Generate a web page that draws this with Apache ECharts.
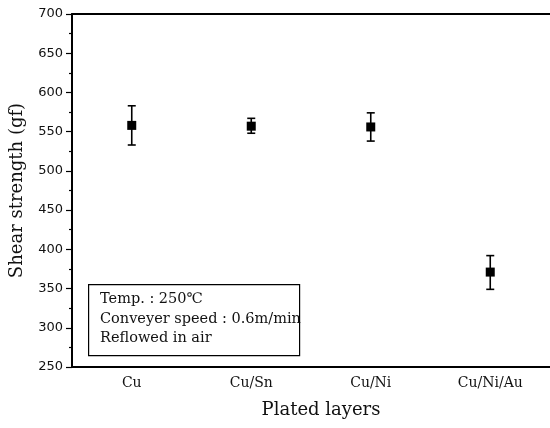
<!DOCTYPE html>
<html>
<head>
<meta charset="utf-8">
<script src="https://cdn.jsdelivr.net/npm/echarts@6/dist/echarts.min.js"></script>
<style>html,body{margin:0;padding:0;background:#fff}#c{width:550px;height:428px}</style>
</head>
<body>
<div id="c"></div>
<script>
const categories = ['Cu', 'Cu/Sn', 'Cu/Ni', 'Cu/Ni/Au'];
const means = [558, 557, 556, 371];
const lower = [533, 548, 538, 349];
const upper = [583, 567, 574, 392];
const yMin = 250, yMax = 700, yStep = 50;
const noteLines = ['Temp. : 250\u2103', 'Conveyer speed : 0.6m/min', 'Reflowed in air'];

const chart = echarts.init(document.getElementById('c'));
const serif = '"DejaVu Serif", "Liberation Serif", serif';
const sans = '"DejaVu Sans", "Liberation Sans", sans-serif';
const data = categories.map((c, i) => [i, means[i], lower[i], upper[i]]);

chart.setOption({
  animation: false,
  backgroundColor: '#fff',
  grid: { left: 72, top: 14, width: 480, height: 353 },
  xAxis: [
    {
      type: 'category', data: categories, position: 'bottom',
      axisLine: { lineStyle: { color: '#000', width: 2 } },
      axisTick: { alignWithLabel: true, length: 5, lineStyle: { color: '#000', width: 1.5 } },
      axisLabel: { color: '#111', fontFamily: serif, fontSize: 14, margin: 9 },
      name: 'Plated layers', nameLocation: 'middle', nameGap: 34,
      nameTextStyle: { color: '#111', fontFamily: serif, fontSize: 18, padding: [0, 0, 0, 20] }
    },
    {
      type: 'category', data: categories, position: 'top',
      axisLine: { lineStyle: { color: '#000', width: 2 } },
      axisTick: { show: false }, axisLabel: { show: false }
    },
    {
      type: 'category', data: categories, position: 'bottom',
      axisLine: { show: false },
      axisTick: { length: 3, lineStyle: { color: '#000', width: 1.2 } },
      axisLabel: { show: false }
    }
  ],
  yAxis: {
    type: 'value', min: yMin, max: yMax, interval: yStep,
    axisLine: { show: true, lineStyle: { color: '#000', width: 2 } },
    axisTick: { show: true, length: 6, lineStyle: { color: '#000', width: 1.2 } },
    minorTick: { show: true, splitNumber: 2, length: 3, lineStyle: { color: '#000', width: 1.2 } },
    splitLine: { show: false },
    axisLabel: { color: '#111', fontFamily: sans, fontSize: 13, margin: 9 },
    name: 'Shear strength (gf)', nameLocation: 'middle', nameGap: 46,
    nameTextStyle: { color: '#111', fontFamily: serif, fontSize: 18 }
  },
  series: [{
    type: 'custom',
    xAxisIndex: 0,
    data: data,
    encode: { x: 0, y: 1 },
    renderItem: function (params, api) {
      const x = api.value(0);
      const c = api.coord([x, api.value(1)]);
      const lo = api.coord([x, api.value(2)]);
      const hi = api.coord([x, api.value(3)]);
      const cap = 4, half = 4.5;
      const st = { stroke: '#000', lineWidth: 1.6 };
      return {
        type: 'group',
        children: [
          { type: 'line', shape: { x1: c[0], y1: hi[1], x2: c[0], y2: lo[1] }, style: st },
          { type: 'line', shape: { x1: c[0] - cap, y1: hi[1], x2: c[0] + cap, y2: hi[1] }, style: st },
          { type: 'line', shape: { x1: c[0] - cap, y1: lo[1], x2: c[0] + cap, y2: lo[1] }, style: st },
          { type: 'rect', shape: { x: c[0] - half, y: c[1] - half, width: 2 * half, height: 2 * half }, style: { fill: '#000' } }
        ]
      };
    }
  }],
  graphic: [
    { type: 'rect', left: 88, top: 284, shape: { width: 211, height: 71 },
      style: { fill: '#fff', stroke: '#000', lineWidth: 1.2 }, z: 10 },
    ...noteLines.map((t, i) => ({
      type: 'text', left: 100, top: 292 + i * 19.6, z: 11,
      style: { text: t, fill: '#111', font: '14.5px ' + serif }
    }))
  ]
});
</script>
</body>
</html>
